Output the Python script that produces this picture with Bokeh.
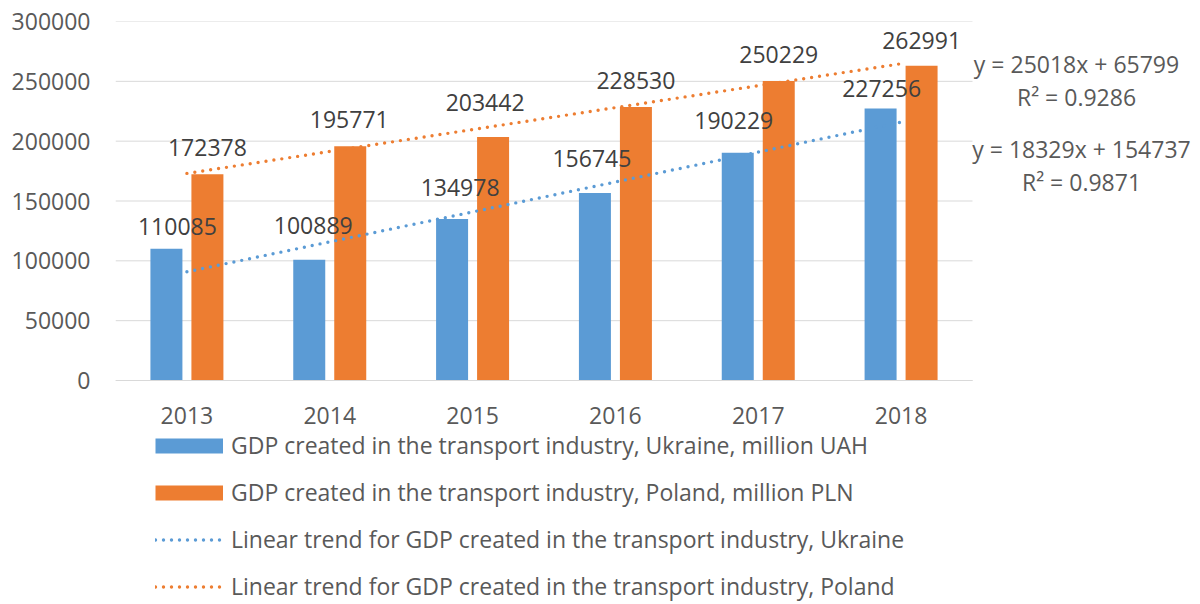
from bokeh.plotting import figure
from bokeh.models import Range1d, Legend, LegendItem, Label, ColumnDataSource, FixedTicker
from bokeh.embed import file_html
from bokeh.resources import INLINE
from bokeh.core.properties import value

# ---------------- data ----------------
years = ["2013", "2014", "2015", "2016", "2017", "2018"]
gdp_ukraine = [110085, 100889, 134978, 156745, 190229, 227256]
gdp_poland = [172378, 195771, 203442, 228530, 250229, 262991]
trend_ukraine_slope, trend_ukraine_intercept, trend_ukraine_r2 = 25018, 65799, 0.9286
trend_poland_slope, trend_poland_intercept, trend_poland_r2 = 18329, 154737, 0.9871
y_ticks = [0, 50000, 100000, 150000, 200000, 250000, 300000]
series_names = [
    "GDP created in the transport industry, Ukraine, million UAH",
    "GDP created in the transport industry, Poland, million PLN",
    "Linear trend for GDP created in the transport industry, Ukraine",
    "Linear trend for GDP created in the transport industry, Poland",
]

# ---------------- style / layout ----------------
BLUE = "#5B9BD5"
ORANGE = "#ED7D31"
GRID = "#D9D9D9"
TXT = "#595959"
LBL = "#404040"
FONT = "Open Sans"
FS = "23px"

W, H = 1200, 604
LEFT, RIGHT_PLOT, TOP, BOTTOM_PLOT = 115, 972, 21, 380   # plot-area box in px

n = len(years)
idx = list(range(1, n + 1))
bar_w = 0.224
bar_off = 0.1435
x_lo, x_hi = 0.5, n + 0.5
y_max = y_ticks[-1]
# the frame extends to the right and bottom canvas edges, so equations & legend live inside it
x_end = x_lo + n * (W - LEFT) / (RIGHT_PLOT - LEFT)
y_start = -y_max * (H - BOTTOM_PLOT) / (BOTTOM_PLOT - TOP)

p = figure(width=W, height=H, x_range=Range1d(x_lo, x_end), y_range=Range1d(y_start, y_max),
           output_backend="svg", toolbar_location=None,
           min_border_left=LEFT, min_border_right=0, min_border_top=TOP, min_border_bottom=0)
p.outline_line_color = None
p.background_fill_color = "white"
p.border_fill_color = "white"

p.xgrid.visible = False
p.ygrid.visible = False
p.segment(x0=[x_lo] * len(y_ticks), x1=[x_hi] * len(y_ticks), y0=y_ticks, y1=y_ticks,
          line_color=GRID, line_width=1, level="underlay")

p.yaxis.ticker = FixedTicker(ticks=y_ticks)
p.yaxis.axis_line_color = None
p.yaxis.major_tick_line_color = None
p.yaxis.minor_tick_line_color = None
p.yaxis.major_tick_out = 0
p.yaxis.major_tick_in = 0
p.yaxis.major_label_standoff = 25
p.yaxis.major_label_text_font = FONT
p.yaxis.major_label_text_font_size = FS
p.yaxis.major_label_text_color = TXT
p.yaxis.formatter.use_scientific = False

p.xaxis.fixed_location = 0
p.xaxis.ticker = FixedTicker(ticks=idx)
p.xaxis.bounds = (x_lo, x_hi)
p.xaxis.major_label_overrides = {i: y for i, y in zip(idx, years)}
p.xaxis.axis_line_color = GRID
p.xaxis.major_tick_line_color = None
p.xaxis.minor_tick_line_color = None
p.xaxis.major_tick_out = 0
p.xaxis.major_tick_in = 0
p.xaxis.major_label_standoff = 26
p.xaxis.major_label_text_font = FONT
p.xaxis.major_label_text_font_size = FS
p.xaxis.major_label_text_color = TXT

# bars
ua_x = [i - bar_off for i in idx]
pl_x = [i + bar_off for i in idx]
p.vbar(x=ua_x, top=gdp_ukraine, width=bar_w, fill_color=BLUE, line_color=None)
p.vbar(x=pl_x, top=gdp_poland, width=bar_w, fill_color=ORANGE, line_color=None)

# trend lines
DOT_W = 3.4
tr_ua = [trend_ukraine_slope * i + trend_ukraine_intercept for i in idx]
tr_pl = [trend_poland_slope * i + trend_poland_intercept for i in idx]
p.line(idx, tr_ua, line_color=BLUE, line_width=DOT_W, line_dash="0 8", line_cap="round")
p.line(idx, tr_pl, line_color=ORANGE, line_width=DOT_W, line_dash="0 8", line_cap="round")

# data labels (offsets in px)
ua_dx = [11, 4, 8, -3, -4, 1]
ua_dy = [-22, -34, -31, -34, -32, -20]
pl_dx = [0, -1, -8, 0, 0, 0]
pl_dy = [-27, -27, -35, -27, -27, -25]
p.text(x=ua_x, y=gdp_ukraine, text=[str(v) for v in gdp_ukraine], x_offset=ua_dx, y_offset=ua_dy,
       text_align="center", text_baseline="middle", text_font=value(FONT),
       text_font_size=value(FS), text_color=LBL)
p.text(x=pl_x, y=gdp_poland, text=[str(v) for v in gdp_poland], x_offset=pl_dx, y_offset=pl_dy,
       text_align="center", text_baseline="middle", text_font=value(FONT),
       text_font_size=value(FS), text_color=LBL)

# trend equations (right of the bars)
eqs = [
    (f"y = {trend_ukraine_slope}x + {trend_ukraine_intercept}", 264600, 104),
    (f"R² = {trend_ukraine_r2}", 237000, 104),
    (f"y = {trend_poland_slope}x + {trend_poland_intercept}", 193700, 109),
    (f"R² = {trend_poland_r2}", 166100, 109),
]
for t, yy, dx in eqs:
    p.add_layout(Label(x=x_hi, y=yy, x_offset=dx, text=t, text_align="center", text_baseline="middle",
                       text_font=FONT, text_font_size=FS, text_color=TXT))

# legend proxies (points placed outside the visible range)
def proxy(color, width, dash, cap):
    src = ColumnDataSource(dict(x=[x_lo - 10, x_lo - 9], y=[0, 0]))
    return p.line(x="x", y="y", source=src, line_color=color,
                  line_width=width, line_dash=dash, line_cap=cap)

g1 = proxy(BLUE, 15, "solid", "butt")
g2 = proxy(ORANGE, 15, "solid", "butt")
g3 = proxy(BLUE, DOT_W, "0 8", "round")
g4 = proxy(ORANGE, DOT_W, "0 8", "round")

legend = Legend(items=[LegendItem(label=series_names[0], renderers=[g1]),
                       LegendItem(label=series_names[1], renderers=[g2]),
                       LegendItem(label=series_names[2], renderers=[g3]),
                       LegendItem(label=series_names[3], renderers=[g4])],
                location=(40, 2), orientation="vertical",
                glyph_width=68, glyph_height=31, label_height=31, spacing=15,
                padding=0, margin=0, border_line_color=None, background_fill_alpha=0,
                label_text_font=FONT, label_text_font_size=FS, label_text_color=TXT,
                label_standoff=8)
p.add_layout(legend)

open("out.html", "w").write(file_html(p, INLINE))
